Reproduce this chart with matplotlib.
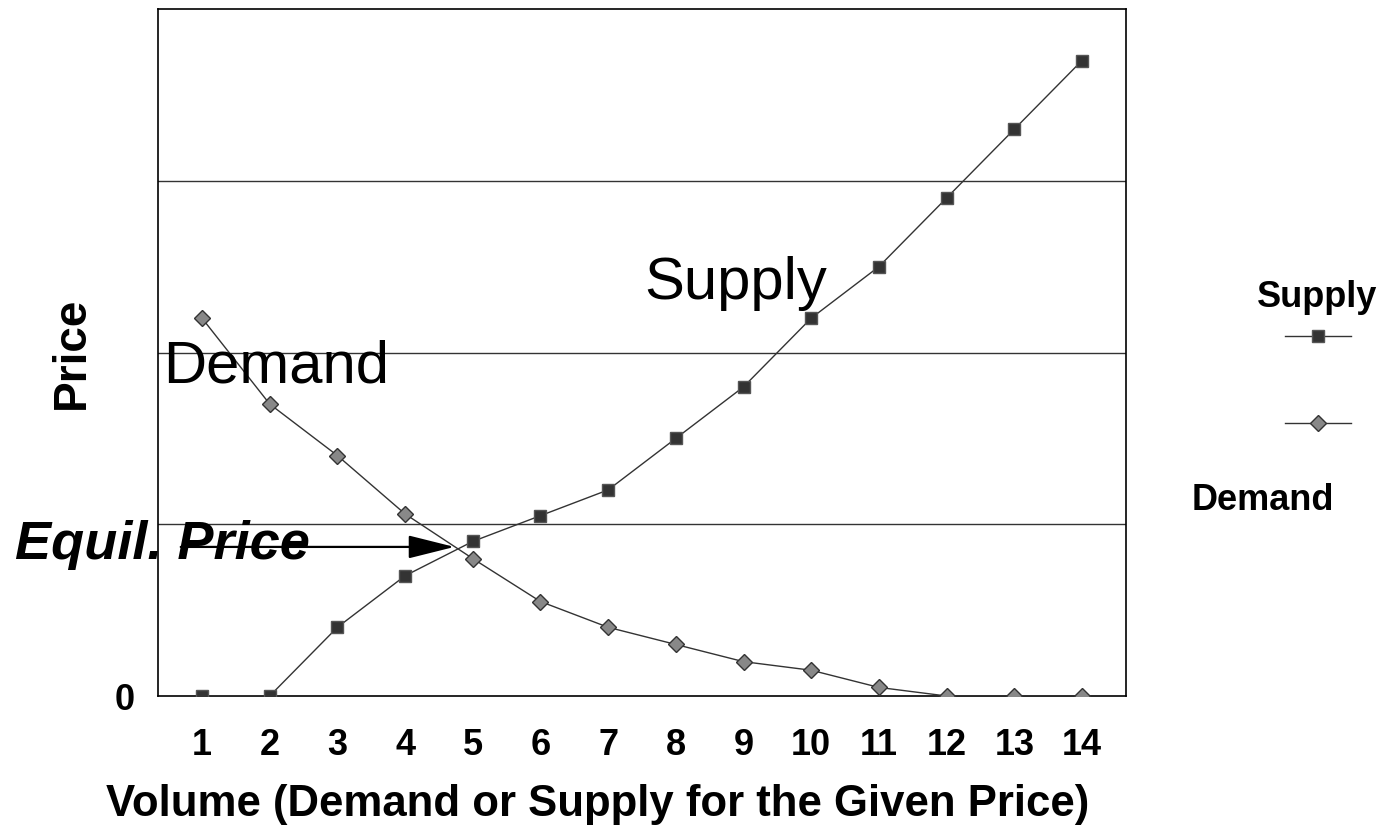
import matplotlib
matplotlib.use("Agg")
import matplotlib.pyplot as plt
from matplotlib.lines import Line2D

plt.rcParams['font.family'] = ['Liberation Sans', 'DejaVu Sans']

volume = [1, 2, 3, 4, 5, 6, 7, 8, 9, 10, 11, 12, 13, 14]
supply = [0, 0, 4, 7, 9, 10.5, 12, 15, 18, 22, 25, 29, 33, 37]
demand = [22, 17, 14, 10.6, 8, 5.5, 4, 3, 2, 1.5, 0.5, 0, 0, 0]
equil_price = 8.68

fig = plt.figure(figsize=(13.85, 8.37), dpi=100)
ax = fig.add_axes([158/1385, 140/837, 968/1385, 687/837])
ax.set_xlim(0.35, 14.65)
ax.set_ylim(0, 40)

for yv in [10, 20, 30]:
    ax.axhline(yv, color='#333333', lw=1.0, zorder=1)

ax.plot(volume, supply, color='#333333', lw=1.0, marker='s', markersize=9,
        markerfacecolor='#333333', markeredgecolor='#555555', markeredgewidth=1, zorder=3)
ax.plot(volume, demand, color='#333333', lw=1.0, marker='D', markersize=8,
        markerfacecolor='#888888', markeredgecolor='#333333', markeredgewidth=1, zorder=3)

ax.set_xticks(volume)
ax.set_xticklabels([str(v) for v in volume], fontsize=26, fontweight='bold')
ax.set_yticks([0])
ax.set_yticklabels(['0'], fontsize=26, fontweight='bold')
ax.tick_params(axis='both', length=0)
ax.tick_params(axis='x', pad=22)
ax.tick_params(axis='y', pad=17)
for s in ax.spines.values():
    s.set_linewidth(1.2)
    s.set_color('black')

ax.text(0.42, 19.2, 'Demand', fontsize=43, va='center', ha='left', zorder=4)
ax.text(7.54, 24.1, 'Supply', fontsize=43, va='center', ha='left', zorder=4)

fig.text(15/1385, 1 - 545/837, 'Equil. Price', fontsize=39, fontweight='bold',
         fontstyle='italic', va='center', ha='left')
ax.annotate('', xy=(4.77, equil_price), xytext=(0.645, equil_price),
            arrowprops=dict(arrowstyle='-|>,head_length=1.44,head_width=0.36',
                            mutation_scale=20, lw=1.6, color='black'),
            annotation_clip=False, zorder=5)

fig.text(72/1385, 1 - 353/837, 'Price', fontsize=33, fontweight='bold',
         rotation=90, va='center', ha='center')
fig.text(598/1385, 1 - 805/837, 'Volume (Demand or Supply for the Given Price)',
         fontsize=31.5, fontweight='bold', va='center', ha='center')

# legend
fig.text(1317/1385, 1 - 298/837, 'Supply', fontsize=26, fontweight='bold', va='center', ha='center')
fig.text(1263/1385, 1 - 500/837, 'Demand', fontsize=26, fontweight='bold', va='center', ha='center')
fig.add_artist(Line2D([1285/1385, 1351/1385], [1 - 337/837] * 2, color='#333333', lw=1.0,
                      transform=fig.transFigure))
fig.add_artist(Line2D([1318/1385], [1 - 337/837], marker='s', markersize=9, ls='none',
                      markerfacecolor='#333333', markeredgecolor='#555555',
                      transform=fig.transFigure))
fig.add_artist(Line2D([1285/1385, 1351/1385], [1 - 424/837] * 2, color='#333333', lw=1.0,
                      transform=fig.transFigure))
fig.add_artist(Line2D([1318/1385], [1 - 424/837], marker='D', markersize=8, ls='none',
                      markerfacecolor='#888888', markeredgecolor='#333333',
                      transform=fig.transFigure))

fig.savefig('out.png', dpi=100)
